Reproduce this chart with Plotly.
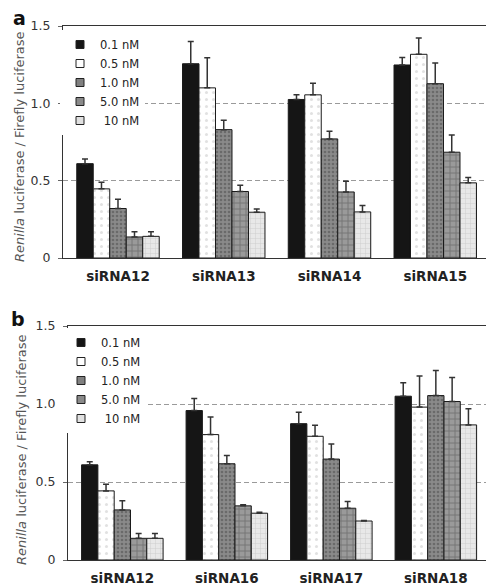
import plotly.graph_objects as go

W, H = 486, 587

conc_labels = ["0.1 nM", "0.5 nM", "1.0 nM", "5.0 nM", " 10 nM"]

cats_a = ["siRNA12", "siRNA13", "siRNA14", "siRNA15"]
vals_a = [
    [0.61, 1.256, 1.025, 1.248],   # 0.1 nM
    [0.447, 1.10, 1.055, 1.317],   # 0.5 nM
    [0.32, 0.83, 0.77, 1.127],     # 1.0 nM
    [0.136, 0.43, 0.427, 0.684],   # 5.0 nM
    [0.14, 0.296, 0.298, 0.486],   # 10 nM
]
err_a = [
    [0.03, 0.144, 0.03, 0.049],
    [0.043, 0.195, 0.075, 0.105],
    [0.06, 0.06, 0.05, 0.133],
    [0.034, 0.04, 0.069, 0.112],
    [0.03, 0.021, 0.042, 0.034],
]

cats_b = ["siRNA12", "siRNA16", "siRNA17", "siRNA18"]
vals_b = [
    [0.61, 0.958, 0.874, 1.05],
    [0.443, 0.804, 0.793, 0.98],
    [0.321, 0.617, 0.647, 1.054],
    [0.139, 0.347, 0.332, 1.016],
    [0.139, 0.30, 0.25, 0.866],
]
err_b = [
    [0.02, 0.077, 0.073, 0.086],
    [0.043, 0.113, 0.071, 0.199],
    [0.059, 0.053, 0.097, 0.161],
    [0.031, 0.007, 0.043, 0.154],
    [0.031, 0.006, 0.003, 0.103],
]

yticks = [0, 0.5, 1.0, 1.5]
ytick_text = ["0", "0.5", "1.0", "1.5"]

styles = [
    dict(color="#151515", pattern=dict(shape="")),
    dict(color="#ffffff", pattern=dict(shape=".", fgcolor="#c4c4c4", bgcolor="#ffffff", size=7, solidity=0.15)),
    dict(color="#7f7f7f", pattern=dict(shape=".", fgcolor="#4a4a4a", bgcolor="#8a8a8a", size=4, solidity=0.35)),
    dict(color="#8c8c8c", pattern=dict(shape="+", fgcolor="#4f4f4f", bgcolor="#9a9a9a", size=6, solidity=0.3)),
    dict(color="#e2e2e2", pattern=dict(shape="+", fgcolor="#b4b4b4", bgcolor="#e8e8e8", size=5, solidity=0.2)),
]
legend_colors = ["#151515", "#ffffff", "#808080", "#8a8a8a", "#e0e0e0"]

FONT = "DejaVu Sans, Verdana, sans-serif"

fig = go.Figure()

def add_panel(cats, vals, errs, xa, ya, leg):
    for i in range(5):
        st = styles[i]
        fig.add_trace(go.Bar(
            x=cats, y=vals[i], xaxis=xa, yaxis=ya, showlegend=False,
            marker=dict(color=st["color"], pattern=st["pattern"],
                        line=dict(color="#1a1a1a", width=1)),
            error_y=dict(type="data", symmetric=False, array=errs[i],
                         arrayminus=[0] * len(cats), color="#333333",
                         thickness=1.5, width=3),
        ))
    for i in range(5):
        fig.add_trace(go.Scatter(
            x=[None], y=[None], xaxis=xa, yaxis=ya, mode="markers",
            name=conc_labels[i], legend=leg, showlegend=True,
            marker=dict(symbol="square", size=8, color=legend_colors[i],
                        line=dict(color="#222222", width=1)),
        ))

add_panel(cats_a, vals_a, err_a, "x", "y", "legend")
add_panel(cats_b, vals_b, err_b, "x2", "y2", "legend2")

def xax(domain, cats, anchor):
    return dict(domain=domain, anchor=anchor, range=[-0.52, 3.48],
                categoryorder="array", categoryarray=cats,
                tickvals=cats, ticktext=["<b>%s</b>" % c for c in cats],
                tickfont=dict(family=FONT, size=13.5, color="#222222"),
                ticklabelstandoff=6,
                showline=True, linecolor="#333333", linewidth=1.2,
                mirror=True, ticks="", showgrid=False, automargin=False)

def yax(domain, xref):
    return dict(domain=domain, anchor=xref, range=[0, 1.5],
                tickvals=yticks, ticktext=ytick_text,
                tickfont=dict(family=FONT, size=12.5, color="#333333"),
                ticks="outside", ticklen=4, tickcolor="#666666", tickwidth=1,
                ticklabelstandoff=5,
                showline=True, linecolor="#333333", linewidth=1.2,
                showgrid=True, gridcolor="#9a9a9a", griddash="5px,3px",
                gridwidth=1, zeroline=False, automargin=False)

fig.update_layout(
    width=W, height=H,
    margin=dict(l=0, r=0, t=0, b=0),
    paper_bgcolor="white", plot_bgcolor="white",
    barmode="group", bargap=0.22, bargroupgap=0,
    font=dict(family=FONT, color="#222222"),
    xaxis=xax([63 / W, 1.0], cats_a, "y"),
    yaxis=yax([1 - 258 / H, 1 - 26 / H], "x"),
    xaxis2=xax([68 / W, 1.0], cats_b, "y2"),
    yaxis2=yax([1 - 560 / H, 1 - 326 / H], "x2"),
    legend=dict(x=60 / W, y=1 - 30 / H, xanchor="left", yanchor="top",
                bgcolor="white", itemwidth=30, tracegroupgap=0,
                font=dict(family=FONT, size=11.5, color="#222222")),
    legend2=dict(x=61 / W, y=1 - 328 / H, xanchor="left", yanchor="top",
                 bgcolor="white", itemwidth=30, tracegroupgap=0,
                 font=dict(family=FONT, size=11.5, color="#222222")),
    annotations=[
        dict(text="<b>a</b>", x=19 / W, y=1 - 18 / H, xref="paper", yref="paper",
             xanchor="center", yanchor="middle", showarrow=False,
             font=dict(family=FONT, size=19, color="#111111")),
        dict(text="<b>b</b>", x=18 / W, y=1 - 319 / H, xref="paper", yref="paper",
             xanchor="center", yanchor="middle", showarrow=False,
             font=dict(family=FONT, size=19, color="#111111")),
        dict(text="<i>Renilla</i> luciferase / Firefly luciferase", textangle=-90,
             x=20 / W, y=1 - 147 / H, xref="paper", yref="paper", showarrow=False,
             xanchor="center", yanchor="middle",
             font=dict(family=FONT, size=13, color="#555555")),
        dict(text="<i>Renilla</i> luciferase / Firefly luciferase", textangle=-90,
             x=21 / W, y=1 - 450 / H, xref="paper", yref="paper", showarrow=False,
             xanchor="center", yanchor="middle",
             font=dict(family=FONT, size=13, color="#555555")),
    ],
)

fig.write_html("out.html", config={"displayModeBar": False},
               post_script="document.body.style.margin='0';document.body.style.padding='0';document.body.style.overflow='hidden';")
